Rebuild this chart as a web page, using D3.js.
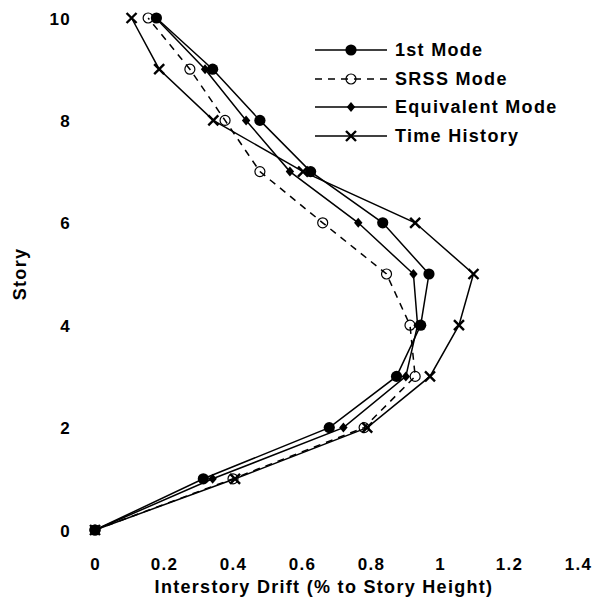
<!DOCTYPE html>
<html>
<head>
<meta charset="utf-8">
<script src="https://cdn.jsdelivr.net/npm/d3@7"></script>
<style>
  html, body { margin: 0; padding: 0; background: #fff; }
  svg text { font-family: "Liberation Sans", Arial, Helvetica, sans-serif; font-weight: bold; fill: #000; letter-spacing: 1.3px; }
</style>
</head>
<body>
<svg id="chart" width="593" height="599"></svg>
<script>
// Story levels (0 = base)
const stories = [0, 1, 2, 3, 4, 5, 6, 7, 8, 9, 10];

// Interstory drift (% of story height) at each story
const firstMode      = [0, 0.314, 0.679, 0.874, 0.944, 0.968, 0.834, 0.625, 0.478, 0.341, 0.178];
const srssMode       = [0, 0.400, 0.780, 0.928, 0.913, 0.845, 0.660, 0.478, 0.377, 0.275, 0.154];
const equivalentMode = [0, 0.341, 0.720, 0.901, 0.935, 0.923, 0.763, 0.565, 0.438, 0.319, 0.176];
const timeHistory    = [0, 0.406, 0.789, 0.971, 1.055, 1.097, 0.928, 0.603, 0.343, 0.186, 0.106];

const seriesNames = ["1st Mode", "SRSS Mode", "Equivalent Mode", "Time History"];

const xTicks = [0, 0.2, 0.4, 0.6, 0.8, 1, 1.2, 1.4];
const yTicks = [0, 2, 4, 6, 8, 10];

const svg = d3.select("#chart");

const x = d3.scaleLinear().domain([0, 1.4]).range([95, 578]);
const y = d3.scaleLinear().domain([0, 10]).range([530, 18]);

const series = [
  { name: seriesNames[0], values: firstMode,      dash: null,  marker: "dot" },
  { name: seriesNames[1], values: srssMode,       dash: "7,6", marker: "ring" },
  { name: seriesNames[2], values: equivalentMode, dash: null,  marker: "diamond" },
  { name: seriesNames[3], values: timeHistory,    dash: null,  marker: "cross" }
];

function drawMarker(g, kind, cx, cy) {
  if (kind === "dot") {
    g.append("circle").attr("cx", cx).attr("cy", cy).attr("r", 5.6).attr("fill", "#000");
  } else if (kind === "ring") {
    g.append("circle").attr("cx", cx).attr("cy", cy).attr("r", 5)
      .attr("fill", "none").attr("stroke", "#000").attr("stroke-width", 1.2);
  } else if (kind === "diamond") {
    g.append("path").attr("transform", `translate(${cx},${cy})`)
      .attr("d", "M0,-5L4.2,0L0,5L-4.2,0Z").attr("fill", "#000");
  } else if (kind === "cross") {
    g.append("path").attr("transform", `translate(${cx},${cy})`)
      .attr("d", "M-5,-5L5,5M-5,5L5,-5").attr("stroke", "#000").attr("stroke-width", 2.4)
      .attr("fill", "none");
  }
}

const line = d3.line()
  .x(d => x(d[0]))
  .y(d => y(d[1]));

const plot = svg.append("g");

series.forEach(s => {
  const pts = s.values.map((v, i) => [v, stories[i]]);
  plot.append("path")
    .datum(pts)
    .attr("d", line)
    .attr("fill", "none")
    .attr("stroke", "#000")
    .attr("stroke-width", 1.5)
    .attr("stroke-dasharray", s.dash);
  const mg = plot.append("g");
  pts.forEach(p => drawMarker(mg, s.marker, x(p[0]), y(p[1])));
});

// Axes: labels only, no domain lines or tick marks
const xAxis = d3.axisBottom(x).tickValues(xTicks).tickSize(0).tickPadding(0)
  .tickFormat(d => d3.format("~g")(d));
const gx = svg.append("g").attr("transform", "translate(0,558)").call(xAxis);
gx.select(".domain").remove();
gx.selectAll("text").attr("font-size", 17).attr("font-family", null).attr("dy", "0.71em");

const yAxis = d3.axisLeft(y).tickValues(yTicks).tickSize(0).tickPadding(0);
const gy = svg.append("g").attr("transform", "translate(71,0)").call(yAxis);
gy.select(".domain").remove();
gy.selectAll("text").attr("font-size", 17).attr("font-family", null).attr("dy", "0.36em");

svg.append("text")
  .attr("x", 324).attr("y", 593)
  .attr("text-anchor", "middle").attr("font-size", 18)
  .text("Interstory Drift (% to Story Height)");

svg.append("text")
  .attr("transform", "translate(26,274) rotate(-90)")
  .attr("text-anchor", "middle").attr("font-size", 18)
  .text("Story");

// Legend
const legendRows = [50, 79, 107, 136];
const legend = svg.append("g");
series.forEach((s, i) => {
  const ly = legendRows[i];
  legend.append("line")
    .attr("x1", 315).attr("x2", 387).attr("y1", ly).attr("y2", ly)
    .attr("stroke", "#000").attr("stroke-width", 1.5)
    .attr("stroke-dasharray", s.dash);
  drawMarker(legend, s.marker, 351, ly);
  legend.append("text")
    .attr("x", 395).attr("y", ly).attr("dy", "0.36em")
    .attr("font-size", 18)
    .text(s.name);
});
</script>
</body>
</html>
